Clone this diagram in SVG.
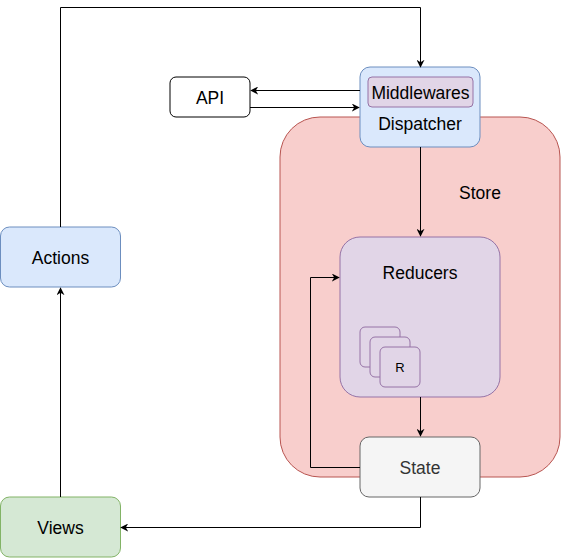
<svg xmlns="http://www.w3.org/2000/svg" width="561" height="558" viewBox="0 0 561 558">
<defs>
<marker id="arr" viewBox="0 0 10 10" refX="9" refY="5" markerWidth="8" markerHeight="8" markerUnits="userSpaceOnUse" orient="auto">
<path d="M0,0 L10,5 L0,10 L3,5 Z" fill="#000"/>
</marker>
<style>
text{font-family:"Liberation Sans",Arial,sans-serif;font-size:17.5px;text-anchor:middle;dominant-baseline:central;fill:#000}
.c{fill:none;stroke:#000;stroke-width:1;marker-end:url(#arr)}
.blue{fill:#dae8fc;stroke:#6c8ebf}
.purple{fill:#e1d5e7;stroke:#9673a6}
</style>
</defs>
<rect width="561" height="558" fill="#fff"/>
<g id="store"><rect x="280" y="117" width="280" height="360" rx="40" fill="#f8cecc" stroke="#b85450"/><text x="480" y="193">Store</text></g>
<g id="reducers"><rect x="340" y="237" width="160" height="160" rx="20" class="purple"/><text x="420" y="273">Reducers</text>
<rect x="360" y="327" width="40" height="40" rx="5" class="purple"/>
<rect x="370" y="337" width="40" height="40" rx="5" class="purple"/>
<rect x="380" y="347" width="40" height="40" rx="5" class="purple"/>
<text x="400" y="367.5" style="font-size:13px">R</text></g>
<g id="api"><rect x="170" y="77" width="80" height="40" rx="6" fill="#fff" stroke="#000"/><text x="210" y="98">API</text></g>
<g id="dispatcher"><rect x="360" y="67" width="120" height="80" rx="10" class="blue"/><text x="420" y="124">Dispatcher</text>
<rect x="368" y="77" width="105" height="30" rx="4" class="purple"/><text x="420.5" y="93">Middlewares</text></g>
<g id="state"><rect x="360" y="437" width="120" height="60" rx="9" fill="#f5f5f5" stroke="#666"/><text x="420" y="468" style="fill:#333">State</text></g>
<g id="actions"><rect x="0.5" y="227" width="120" height="60" rx="9" class="blue"/><text x="60.5" y="258">Actions</text></g>
<g id="views"><rect x="0.5" y="497" width="120" height="60" rx="9" fill="#d5e8d4" stroke="#82b366"/><text x="60.5" y="528">Views</text></g>
<g id="connectors">
<path class="c" d="M60.5,227 V7.5 H420.5 V67"/>
<path class="c" d="M360,90.5 H251"/>
<path class="c" d="M250,107.5 H359"/>
<path class="c" d="M420.5,147 V236"/>
<path class="c" d="M420.5,397 V436"/>
<path class="c" d="M360,467.5 H310.5 V277.5 H339"/>
<path class="c" d="M420.5,497 V527.5 H121"/>
<path class="c" d="M60.5,497 V288"/>
</g>
</svg>
